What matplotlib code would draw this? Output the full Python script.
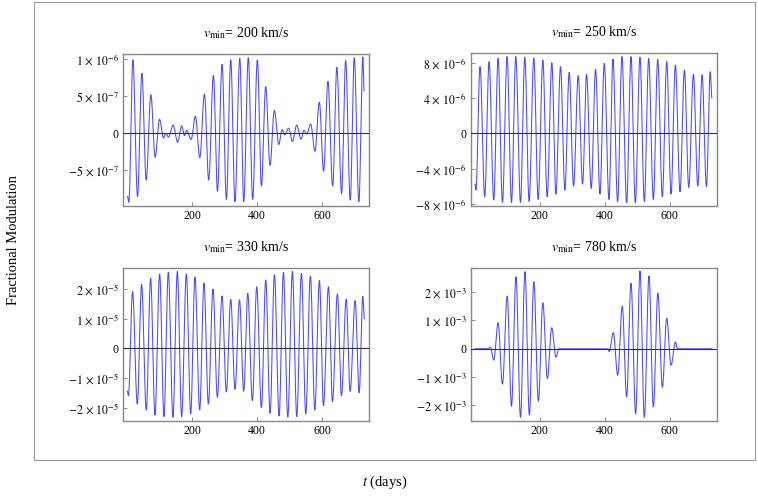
import numpy as np
import matplotlib.pyplot as plt
from matplotlib.patches import Rectangle

plt.rcParams['font.family'] = ['Liberation Serif', 'DejaVu Serif']
plt.rcParams['mathtext.fontset'] = 'stix'

# extrema of each curve (t in days, value in panel units)
t1 = [1, 5, 17.4, 31.8, 45.1, 58.5, 72.8, 86, 99.5, 111.7, 119, 127, 141.5, 155, 168, 176.5,
      183, 197, 210, 223.6, 238, 251, 265.6, 278, 292.3, 305.6, 319, 332, 346.8, 359, 373, 386.6,
      401, 413.4, 426.7, 440, 453.4, 467, 477, 485, 497.5, 509, 522, 535.4, 544.6, 553, 565.2,
      578.5, 592, 605, 618.5, 633, 646, 660.5, 673, 687.2, 699.5, 713.8, 726, 730]
y1 = [-0.85, -0.93, 0.99, -0.85, 0.81, -0.63, 0.52, -0.32, 0.19, -0.06, 0.0, -0.05, 0.11, -0.12,
      0.10, -0.03, 0.04, -0.08, 0.23, -0.33, 0.53, -0.63, 0.78, -0.78, 0.93, -0.89, 0.99, -0.92,
      1.01, -0.92, 1.02, -0.89, 0.99, -0.71, 0.63, -0.43, 0.31, -0.15, 0.05, -0.02, 0.07, -0.11,
      0.11, -0.08, 0.04, -0.01, 0.125, -0.24, 0.42, -0.51, 0.70, -0.71, 0.89, -0.81, 0.98, -0.90,
      1.02, -0.92, 1.03, 0.57]  # x 1e-6

t2 = [0, 3, 15.8, 30.2, 43.6, 58, 71.4, 84.8, 99.1, 112.6, 126, 140.4, 153.7, 167, 181.5, 194.9,
      209.3, 222.6, 237, 249.4, 263.8, 277.2, 290.5, 303.9, 318.3, 331.7, 344, 358.4, 371.8, 385.2,
      398.6, 413, 425.3, 439.7, 453, 467.5, 480.9, 494.2, 508.6, 522, 535.4, 549.8, 563.2, 577.5,
      591, 604.3, 617.7, 632, 645.5, 658.8, 673.3, 686.6, 700, 713.4, 725, 730]
y2 = [-5.75, -6.4, 7.53, -7.16, 8.09, -7.54, 8.47, -7.8, 8.66, -7.8, 8.66, -7.8, 8.59, -7.69,
      8.47, -7.46, 8.28, -7.16, 7.98, -6.86, 7.53, -6.41, 6.89, -5.96, 6.51, -5.73, 6.66, -6.22,
      7.21, -6.86, 7.9, -7.46, 8.39, -7.72, 8.66, -7.84, 8.66, -7.84, 8.59, -7.69, 8.47, -7.46,
      8.36, -7.16, 8.09, -6.86, 7.72, -6.6, 7.15, -6.11, 6.66, -5.96, 6.59, -6.03, 6.96, 4.0]  # x 1e-6

t3 = [1, 4.5, 17.4, 31.8, 45.1, 59.5, 72.8, 86.2, 100.5, 113.8, 127.2, 141.5, 154.9, 168.2,
      182.6, 195.9, 209.2, 223.6, 236.9, 250.3, 264.6, 278, 292.3, 305.6, 319, 332.3, 346, 359,
      371.3, 385.6, 399, 413.4, 426.7, 440, 453.4, 467.7, 481, 494.4, 508.7, 522, 536.4, 549.7,
      564, 577.4, 591.7, 604, 619.5, 631.7, 647, 659.4, 674, 686, 701.5, 713.8, 725, 730]
y3 = [-1.45, -1.6, 1.91, -1.88, 2.15, -2.08, 2.36, -2.25, 2.50, -2.30, 2.56, -2.32, 2.58, -2.30,
      2.50, -2.21, 2.39, -2.08, 2.19, -1.88, 1.99, -1.65, 1.76, -1.47, 1.65, -1.38, 1.63, -1.45,
      1.85, -1.76, 2.07, -2.0, 2.30, -2.19, 2.47, -2.28, 2.55, -2.32, 2.58, -2.30, 2.52, -2.21,
      2.43, -2.08, 2.28, -1.94, 2.07, -1.80, 1.83, -1.6, 1.65, -1.45, 1.60, -1.5, 1.74, 1.0]  # x 1e-5

t4 = [0, 40, 47.7, 58, 71.4, 84.8, 99.5, 112.6, 126.5, 140.4, 154.3, 167.7, 181.5, 195.5, 209.3,
      223.2, 236.6, 249.5, 259, 410, 413.5, 426.4, 440, 454, 467.5, 480.9, 495.3, 508.6, 522,
      536.4, 549.8, 563.7, 577.6, 591, 604.3, 617.7, 624, 730]
y4 = [0, 0, 0.06, -0.40, 0.92, -1.25, 1.86, -2.03, 2.54, -2.42, 2.72, -2.34, 2.37, -1.85, 1.62,
      -1.05, 0.74, -0.30, 0, 0, -0.10, 0.57, -0.93, 1.50, -1.70, 2.31, -2.30, 2.74, -2.42, 2.57,
      -2.05, 1.96, -1.36, 1.07, -0.58, 0.24, 0, 0]  # x 1e-3

titles = ['200', '250', '330', '780']
yticks = [[-0.5, 0, 0.5, 1], [-8, -4, 0, 4, 8], [-2, -1, 0, 1, 2], [-2, -1, 0, 1, 2]]
ylabels = [[r'$-5\,\times\,10^{-7}$', '0', r'$5\,\times\,10^{-7}$', r'$1\,\times\,10^{-6}$'],
           [r'$-8\,\times\,10^{-6}$', r'$-4\,\times\,10^{-6}$', '0', r'$4\,\times\,10^{-6}$', r'$8\,\times\,10^{-6}$'],
           [r'$-2\,\times\,10^{-5}$', r'$-1\,\times\,10^{-5}$', '0', r'$1\,\times\,10^{-5}$', r'$2\,\times\,10^{-5}$'],
           [r'$-2\,\times\,10^{-3}$', r'$-1\,\times\,10^{-3}$', '0', r'$1\,\times\,10^{-3}$', r'$2\,\times\,10^{-3}$']]
ylims = [(-0.98, 1.07), (-8.18, 9.04), (-2.44, 2.69), (-2.55, 2.84)]


def wave(tk, yk, n=24):
    # join neighbouring extrema with half-cosine arcs
    tt, yy = [], []
    for i in range(len(tk) - 1):
        s = np.linspace(0, 1, n, endpoint=False)
        tt.append(tk[i] + (tk[i + 1] - tk[i]) * s)
        yy.append(yk[i] + (yk[i + 1] - yk[i]) * (1 - np.cos(np.pi * s)) / 2)
    tt.append([tk[-1]])
    yy.append([yk[-1]])
    return np.concatenate(tt), np.concatenate(yy)


W, H = 758, 496
fig = plt.figure(figsize=(W / 100, H / 100), dpi=100)

# outer frame
fig.patches.append(Rectangle((34 / W, 1 - 460 / H), 721 / W, 458 / H, transform=fig.transFigure,
                             fill=False, edgecolor='#999999', lw=0.8))

boxes = [(123, 54, 369, 206), (470.7, 53.3, 716.7, 205.7),
         (122.7, 268.3, 369.3, 420.7), (470.7, 268.3, 716.7, 421)]
data = [(t1, y1), (t2, y2), (t3, y3), (t4, y4)]

for i in range(4):
    l, t, r, b = boxes[i]
    ax = fig.add_axes([l / W, 1 - b / H, (r - l) / W, (b - t) / H])
    tx, ty = wave(*data[i])
    ax.plot(tx, ty, color='#4a4aff', lw=0.75)
    ax.axhline(0, color='#333333', lw=0.8, zorder=3)
    ax.set_xlim(-13, 745)
    ax.set_ylim(*ylims[i])
    ax.set_xticks([200, 400, 600])
    ax.set_yticks(yticks[i])
    ax.set_yticklabels(ylabels[i])
    ax.tick_params(direction='in', length=3, width=0.6, color='#777777', labelsize=8.5, pad=3)
    for sp in ax.spines.values():
        sp.set_color('#888888')
        sp.set_linewidth(1.0)
    ax.set_title(r'$v_{\rm min}$= ' + titles[i] + ' km/s', fontsize=10, pad=12)

fig.text(14 / W, 1 - 240 / H, 'Fractional Modulation', rotation=90, ha='center', va='center', fontsize=10.5)
fig.text(385 / W, 1 - 482 / H, r'$t$ (days)', ha='center', va='center', fontsize=10.5)

fig.savefig('out.png', dpi=100)
